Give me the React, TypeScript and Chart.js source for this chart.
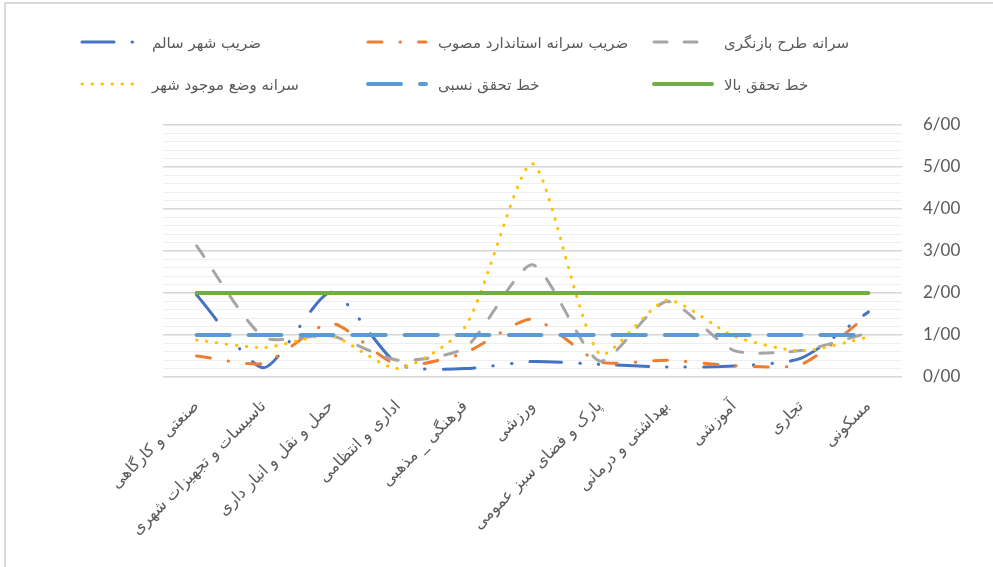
import React, { useEffect, useRef } from 'react';
import { Chart, registerables } from 'chart.js';

Chart.register(...registerables);

const categories = [
  'صنعتی و کارگاهی',
  'تاسیسات و تجهیزات شهری',
  'حمل و نقل و انبار داری',
  'اداری و انتظامی',
  'فرهنگی _ مذهبی',
  'ورزشی',
  'پارک و فضای سبز عمومی',
  'بهداشتی و درمانی',
  'آموزشی',
  'تجاری',
  'مسکونی',
];

const healthyCityCoef = [1.95, 0.22, 2.02, 0.3, 0.2, 0.37, 0.3, 0.24, 0.26, 0.45, 1.55];
const approvedStandardCoef = [0.5, 0.33, 1.28, 0.28, 0.58, 1.38, 0.36, 0.4, 0.27, 0.3, 1.48];
const revisedPlanPerCapita = [3.12, 0.95, 0.98, 0.4, 0.7, 2.67, 0.38, 1.8, 0.63, 0.63, 1.05];
const currentPerCapita = [0.88, 0.7, 0.98, 0.2, 1.2, 5.08, 0.55, 1.83, 0.97, 0.62, 0.95];
const relativeLine = [1, 1, 1, 1, 1, 1, 1, 1, 1, 1, 1];
const highLine = [2, 2, 2, 2, 2, 2, 2, 2, 2, 2, 2];

const seriesNames = [
  'ضریب شهر سالم',
  'ضریب سرانه استاندارد مصوب',
  'سرانه طرح بازنگری',
  'سرانه وضع موجود شهر',
  'خط تحقق نسبی',
  'خط تحقق بالا',
];

const yMin = 0;
const yMax = 6;
const yStep = 0.2;

// legend grid: [column, row] per series
const legendCells = [
  [0, 0],
  [1, 0],
  [2, 0],
  [0, 1],
  [1, 1],
  [2, 1],
];

const PERSIAN_FONT = '"DejaVu Sans", "Noto Sans", sans-serif';

const legendPlugin = {
  id: 'gridLegend',
  afterDraw(chart: any) {
    const ctx = chart.ctx as CanvasRenderingContext2D;
    const colX = [80, 366, 652];
    const rowY = [43, 85];
    const sampleW = 60;
    chart.data.datasets.forEach((ds: any, i: number) => {
      const [c, r] = legendCells[i];
      const x = colX[c];
      const y = rowY[r];
      ctx.save();
      ctx.strokeStyle = ds.borderColor;
      ctx.lineWidth = ds.borderWidth;
      ctx.lineCap = 'round';
      ctx.setLineDash(ds.borderDash || []);
      ctx.beginPath();
      ctx.moveTo(x + 2, y - 1);
      ctx.lineTo(x + sampleW, y - 1);
      ctx.stroke();
      ctx.setLineDash([]);
      ctx.fillStyle = '#595959';
      ctx.font = `15px ${PERSIAN_FONT}`;
      ctx.textAlign = 'left';
      ctx.textBaseline = 'middle';
      ctx.fillText(ds.label, x + sampleW + 12, y + 1);
      ctx.restore();
    });
  },
};

export default function App() {
  const canvasRef = useRef<HTMLCanvasElement | null>(null);

  useEffect(() => {
    const canvas = canvasRef.current;
    if (!canvas) return;
    const common = { fill: false, pointRadius: 0, pointHoverRadius: 0, tension: 0.22, borderCapStyle: 'round' as const };
    const chart = new Chart(canvas, {
      type: 'line',
      data: {
        labels: categories,
        datasets: [
          { ...common, label: seriesNames[0], data: healthyCityCoef, borderColor: '#4472C4', borderWidth: 3, borderDash: [32, 18, 0.5, 18, 0.5, 18], order: 5 },
          { ...common, label: seriesNames[1], data: approvedStandardCoef, borderColor: '#ED7D31', borderWidth: 3, borderDash: [14, 18, 0.5, 18], order: 4 },
          { ...common, label: seriesNames[2], data: revisedPlanPerCapita, borderColor: '#A5A5A5', borderWidth: 3, borderDash: [13, 17], order: 3 },
          { ...common, label: seriesNames[3], data: currentPerCapita, borderColor: '#FFC000', borderWidth: 3, borderDash: [0.5, 9.5], order: 2 },
          { ...common, label: seriesNames[4], data: relativeLine, borderColor: '#5B9BD5', borderWidth: 4, borderDash: [33, 19], order: 1 },
          { ...common, label: seriesNames[5], data: highLine, borderColor: '#70AD47', borderWidth: 4, borderDash: [], order: 0 },
        ],
      },
      options: {
        responsive: false,
        animation: false,
        layout: { padding: { top: 125, left: 163, right: 23, bottom: 0 } },
        plugins: {
          legend: { display: false },
          tooltip: { enabled: false },
        },
        scales: {
          x: {
            offset: true,
            grid: { display: false, drawTicks: false },
            border: { display: false },
            ticks: {
              autoSkip: false,
              minRotation: 45,
              maxRotation: 45,
              padding: 20,
              color: '#595959',
              font: { family: PERSIAN_FONT, size: 16 },
            },
            afterFit: (scale: any) => {
              scale.height = 567 - 377;
            },
          },
          y: {
            position: 'right',
            min: yMin,
            max: yMax,
            border: { display: false },
            grid: {
              drawTicks: false,
              color: (c: any) => (Math.abs(c.tick.value - Math.round(c.tick.value)) < 1e-6 ? '#D6D6D6' : '#EFEFEF'),
              lineWidth: (c: any) => (Math.abs(c.tick.value - Math.round(c.tick.value)) < 1e-6 ? 1.6 : 1),
            },
            ticks: {
              stepSize: yStep,
              autoSkip: false,
              padding: 21,
              color: '#595959',
              font: { family: 'Lato, "Open Sans", sans-serif', size: 17 },
              callback: (v: any) => {
                const n = Number(v);
                if (Math.abs(n - Math.round(n)) > 1e-6) return '';
                return n.toFixed(2).replace('.', '/');
              },
            },
            afterFit: (scale: any) => {
              scale.width = 68;
            },
          },
        },
      },
      plugins: [legendPlugin],
    });
    return () => chart.destroy();
  }, []);

  return (
    <div style={{ position: 'fixed', left: 0, top: 0, width: 993, height: 567, overflow: 'hidden', background: '#fff' }}>
      <div style={{ position: 'absolute', left: 4, top: 2, width: 1200, height: 900, border: '2px solid #D9D9D9' }} />
      <canvas ref={canvasRef} width={993} height={567} style={{ position: 'absolute', left: 0, top: 0 }} />
    </div>
  );
}
